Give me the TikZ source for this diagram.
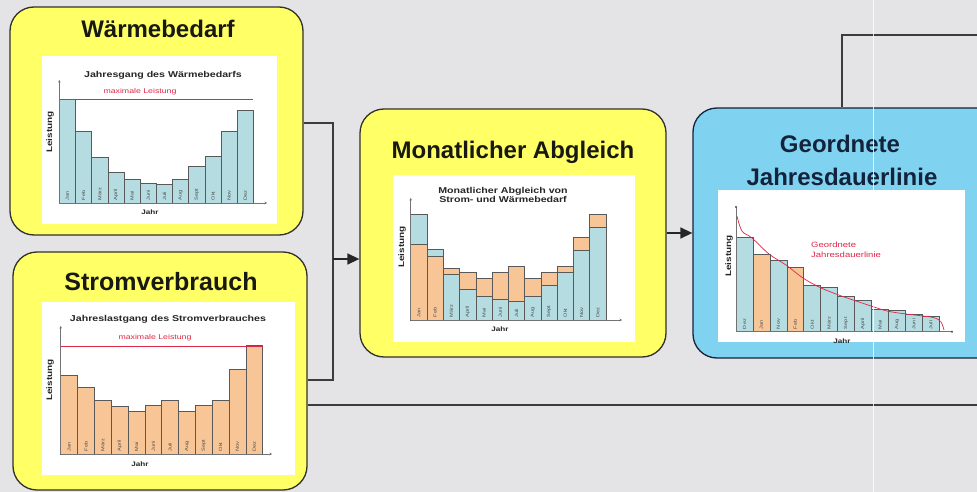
\documentclass[tikz,border=0pt]{standalone}
\usepackage{fontspec}
\setmainfont{Liberation Sans}
\newfontfamily\chartfont[FakeStretch=1.25]{Liberation Sans}
\usetikzlibrary{arrows.meta}
\definecolor{bg}{RGB}{228,228,230}
\definecolor{boxyellow}{RGB}{255,255,102}
\definecolor{boxblue}{RGB}{128,211,240}
\definecolor{barblue}{RGB}{180,220,225}
\definecolor{barpeach}{RGB}{248,198,150}
\definecolor{maxred}{RGB}{222,40,70}
\definecolor{linegray}{RGB}{60,60,60}
\definecolor{titleblack}{RGB}{25,25,20}
\definecolor{titlenavy}{RGB}{20,35,60}
\tikzset{
  procbox/.style={draw=titleblack!90, line width=1.3pt, rounded corners=24pt, fill=boxyellow, inner sep=0pt},
  bluebox/.style={procbox, fill=boxblue, draw=titlenavy},
  boxtitle/.style={font=\fontsize{24}{26}\selectfont\bfseries, text=titleblack, anchor=base, inner sep=0pt},
  barA/.style={fill=barblue, draw=black!65, line width=0.6pt},
  barB/.style={fill=barpeach, draw=black!65, line width=0.6pt},
  chartaxis/.style={draw=black!55, line width=0.5pt, -{Stealth[length=2.5pt,width=2.5pt]}},
  maxline/.style={draw=maxred, line width=0.7pt},
  ctitle/.style={font=\chartfont\fontsize{8.5}{9}\selectfont\bfseries, text=black!85, align=center, inner sep=0pt},
  redlab/.style={font=\chartfont\fontsize{7}{8}\selectfont, text=maxred, inner sep=0pt},
  mlabel/.style={font=\chartfont\fontsize{4.5}{5}\selectfont, rotate=90, anchor=west, inner sep=0.5pt, text=black!70},
  axlabel/.style={font=\chartfont\fontsize{6.5}{7}\selectfont\bfseries, text=black!85, inner sep=0pt},
  ylab/.style={font=\chartfont\fontsize{8}{9}\selectfont\bfseries, text=black!85, rotate=90, inner sep=0pt},
  conn/.style={draw=linegray, line width=1.4pt},
  flowarrow/.style={draw=black!85, line width=1.4pt, -{Triangle[length=12pt,width=11pt]}}
}
\begin{document}
\begin{tikzpicture}[x=1pt,y=-1pt]
\fill[bg] (0,0) rectangle (977,492);
\useasboundingbox (0,0) rectangle (977,492);
\clip (0,0) rectangle (977,492);

% ---------- boxes ----------
\node[procbox, minimum width=293pt, minimum height=228pt] (w) at (156.5,121) {};
\node[procbox, minimum width=294pt, minimum height=238pt] (s) at (160,371) {};
\node[procbox, minimum width=306pt, minimum height=248pt] (m) at (513,233) {};
\node[bluebox, minimum width=310pt, minimum height=250pt] (g) at (848,233) {};

\node[boxtitle] (wt) at (158,38) {Wärmebedarf};
\node[boxtitle, font=\fontsize{25}{27}\selectfont\bfseries] (st) at (161,290) {Stromverbrauch};
\node[boxtitle] (mt) at (513,158) {Monatlicher Abgleich};
\node[boxtitle, text=titlenavy] (gt1) at (840,153) {Geordnete};
\node[boxtitle, text=titlenavy] (gt2) at (842,185) {Jahresdauerlinie};

% ---------- chart 1: Waermebedarf ----------
\fill[white] (42,56) rectangle (277,224);
\node[ctitle] (c1t) at (163,75) {Jahresgang des Wärmebedarfs};
\foreach \h [count=\i from 0] in {99.3,131.7,157.7,172.3,179.3,183.3,184.3,179.3,166.7,156,131.7,110}
  \draw[barA] ({59.3+\i*16.17},203) rectangle ({59.3+(\i+1)*16.17},\h);
\foreach \mo [count=\i from 0] in {Jan,Feb,März,April,Mai,Juni,Juli,Aug,Sept,Okt,Nov,Dez}
  \node[mlabel] (w-m\i) at ({59.3+(\i+0.5)*16.17},201) {\mo};
\draw[maxline] (59.3,99.3) -- (253,99.3);
\node[redlab] (c1r) at (140,92) {maximale Leistung};
\draw[chartaxis] (59.3,203) -- (59.3,80);
\draw[chartaxis] (59.3,203) -- (267,203);
\node[axlabel] (c1x) at (150,212) {Jahr};
\node[ylab] (c1y) at (50,132) {Leistung};

% ---------- chart 2: Stromverbrauch ----------
\fill[white] (42,302) rectangle (295,475);
\node[ctitle] (c2t) at (168,319) {Jahreslastgang des Stromverbrauches};
\foreach \h [count=\i from 0] in {375.7,387,400,406,411,405.7,400,411,405.7,400,369,345}
  \draw[barB] ({60.7+\i*16.83},454) rectangle ({60.7+(\i+1)*16.83},\h);
\foreach \mo [count=\i from 0] in {Jan,Feb,März,April,Mai,Juni,Juli,Aug,Sept,Okt,Nov,Dez}
  \node[mlabel] (s-m\i) at ({60.7+(\i+0.5)*16.83},452) {\mo};
\draw[maxline] (60.7,346) -- (263,346);
\node[redlab] (c2r) at (155,338) {maximale Leistung};
\draw[chartaxis] (60.7,454) -- (60.7,326);
\draw[chartaxis] (60.7,454) -- (272,454);
\node[axlabel] (c2x) at (140,464) {Jahr};
\node[ylab] (c2y) at (50,380) {Leistung};

% ---------- chart 3: Monatlicher Abgleich ----------
\fill[white] (393,175) rectangle (635,342);
\node[ctitle] (c3t) at (503,195) {Monatlicher Abgleich von\\Strom- und Wärmebedarf};
\foreach \i/\b/\p in {0/214/244,1/249/256} {
  \draw[barA] ({410.7+\i*16.275},320) rectangle ({410.7+(\i+1)*16.275},\b);
  \draw[barB] ({410.7+\i*16.275},320) rectangle ({410.7+(\i+1)*16.275},\p);
}
\foreach \i/\b/\p in {2/274/268.3,3/289.3/272.7,4/296.7/278.3,5/299.3/272.7,6/301.7/266.7,7/296.7/278.3,8/285/272.7,9/272.7/266.7,10/250/237.3,11/227.3/214} {
  \draw[barB] ({410.7+\i*16.275},320) rectangle ({410.7+(\i+1)*16.275},\p);
  \draw[barA] ({410.7+\i*16.275},320) rectangle ({410.7+(\i+1)*16.275},\b);
}
\foreach \mo [count=\i from 0] in {Jan,Feb,März,April,Mai,Juni,Juli,Aug,Sept,Okt,Nov,Dez}
  \node[mlabel] (m-m\i) at ({410.7+(\i+0.5)*16.275},318) {\mo};
\draw[chartaxis] (410.7,320) -- (410.7,198);
\draw[chartaxis] (410.7,320) -- (622,320);
\node[axlabel] (c3x) at (500,329) {Jahr};
\node[ylab] (c3y) at (402,247) {Leistung};

% ---------- chart 4: Geordnete Jahresdauerlinie ----------
\fill[white] (718,190) rectangle (965,342);
\foreach \h/\st [count=\i from 0] in {237.3/barA,254/barB,260/barA,267.3/barB,285/barA,287.3/barA,296.7/barA,300/barA,309.3/barA,310/barA,314/barA,316/barA}
  \draw[\st] ({736+\i*16.94},331.7) rectangle ({736+(\i+1)*16.94},\h);
\foreach \mo [count=\i from 0] in {Dez,Jan,Nov,Feb,Okt,März,Sept,April,Mai,Aug,Juni,Juli}
  \node[mlabel] (g-m\i) at ({736+(\i+0.5)*16.94},329.7) {\mo};
\draw[maxred, line width=0.7pt] plot[smooth, tension=0.6] coordinates {(737,216) (742,231) (752,238) (769,254) (786,265) (803,278) (819,287) (836,294) (853,300) (871,306) (887,311) (906,314) (923,316) (935,318) (941,322) (944,330)};
\node[redlab, font=\chartfont\fontsize{7.6}{8}\selectfont, align=left, anchor=north west] (c4r) at (811,242) {Geordnete\\[1.5pt]Jahresdauerlinie};
\draw[draw=black!55, line width=0.5pt] (736,331.7) -- (736,207);
\fill[black!70] (736,207) circle (1.1pt);
\draw[draw=black!55, line width=0.5pt] (736,331.7) -- (952,331.7);
\fill[black!70] (952,331.7) circle (1.1pt);
\node[axlabel] (c4x) at (842,341) {Jahr};
\node[ylab] (c4y) at (729,256) {Leistung};

% ---------- connectors ----------
\coordinate (jt) at (333,123);
\coordinate (jb) at (333,380);
\coordinate (jm) at (333,259);
\coordinate (gtop) at (842,35);
\coordinate (e1) at (985,35);
\coordinate (e2) at (985,405);
\draw[conn] (w.east |- jt) -- (jt) -- (jb) -- (s.east |- jb);
\draw[flowarrow] (jm) -- (m.west |- jm);
\draw[flowarrow] (m.east) -- (g.west);
\draw[conn] (g.north -| gtop) -- (gtop) -- (e1);
\draw[conn] (s.east |- e2) -- (e2);

% scan artifact line
\draw[white, opacity=0.8, line width=0.8pt] (873,0) -- (873,492);
\end{tikzpicture}
\end{document}
